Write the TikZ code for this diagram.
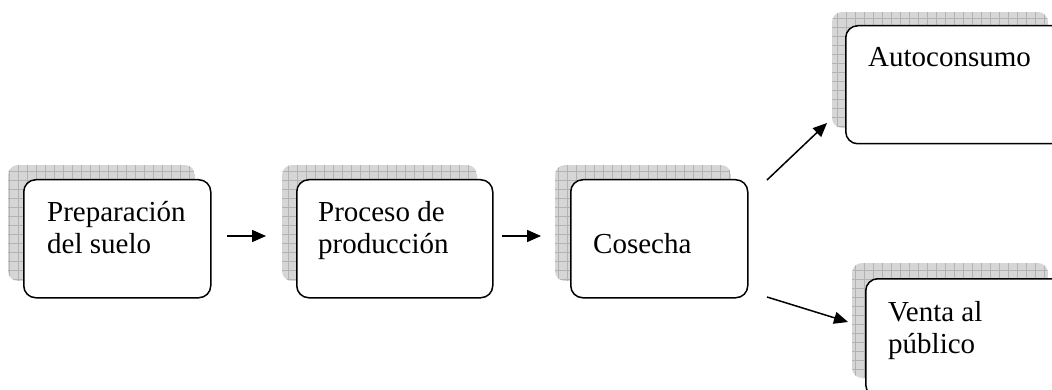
\documentclass[tikz,border=0pt]{standalone}
\usepackage{fontspec}
\setmainfont{Liberation Serif}
\usetikzlibrary{arrows.meta}
\newcommand\gridshade[4]{%
  \begin{scope}
    \clip[rounded corners=10pt] (#1,#2) rectangle (#3,#4);
    \fill[gray!32] (#1,#2) rectangle (#3,#4);
    \draw[gray!60, line width=0.5pt, step=9pt] (#1,#2) grid (#3,#4);
  \end{scope}}
\begin{document}
\begin{tikzpicture}[x=1pt,y=-1pt,
  box/.style={draw, line width=1.5pt, rounded corners=12pt, fill=white, anchor=north west, inner sep=0pt},
  lbl/.style={anchor=base west, inner sep=0pt, font=\fontsize{29}{32}\selectfont, align=left},
  conn/.style={line width=1.5pt, -{Triangle[length=14pt,width=12pt]}}]
\useasboundingbox (0,0) rectangle (1052,390);
\begin{scope}
\clip (0,0) rectangle (1052,390);
% shadows
\gridshade{8}{165}{195}{281}
\gridshade{282}{165}{477}{281}
\gridshade{555}{165}{731}{281}
\gridshade{832}{12}{1048}{128}
\gridshade{852}{263}{1048}{378}
% boxes
\node[box, minimum width=187pt, minimum height=118pt] (b1) at (23,179) {};
\node[box, minimum width=196pt, minimum height=118pt] (b2) at (296,179) {};
\node[box, minimum width=177pt, minimum height=118pt] (b3) at (570,179) {};
\node[box, minimum width=220pt, minimum height=118pt] (b4) at (845,25) {};
\node[box, minimum width=200pt, minimum height=118pt] (b5) at (865,278) {};
% labels (base anchor = baseline of last line)
\node[lbl] (t1) at (47,253) {Preparación\\del suelo};
\node[lbl] (t2) at (318,253) {Proceso de\\producción};
\node[lbl] (t3) at (593,253) {Cosecha};
\node[lbl] (t4) at (868,67) {Autoconsumo};
\node[lbl] (t5) at (888,353) {Venta al\\público};
\end{scope}
% connectors
\coordinate (a1s) at (227,236); \coordinate (a1e) at (266,236);
\coordinate (a2s) at (502,236); \coordinate (a2e) at (541,236);
\coordinate (a3s) at (767,180); \coordinate (a3e) at (827,123);
\coordinate (a4s) at (767,297); \coordinate (a4e) at (848,322);
\draw[conn] (a1s) -- (a1e);
\draw[conn] (a2s) -- (a2e);
\draw[conn] (a3s) -- (a3e);
\draw[conn] (a4s) -- (a4e);
\end{tikzpicture}
\end{document}
